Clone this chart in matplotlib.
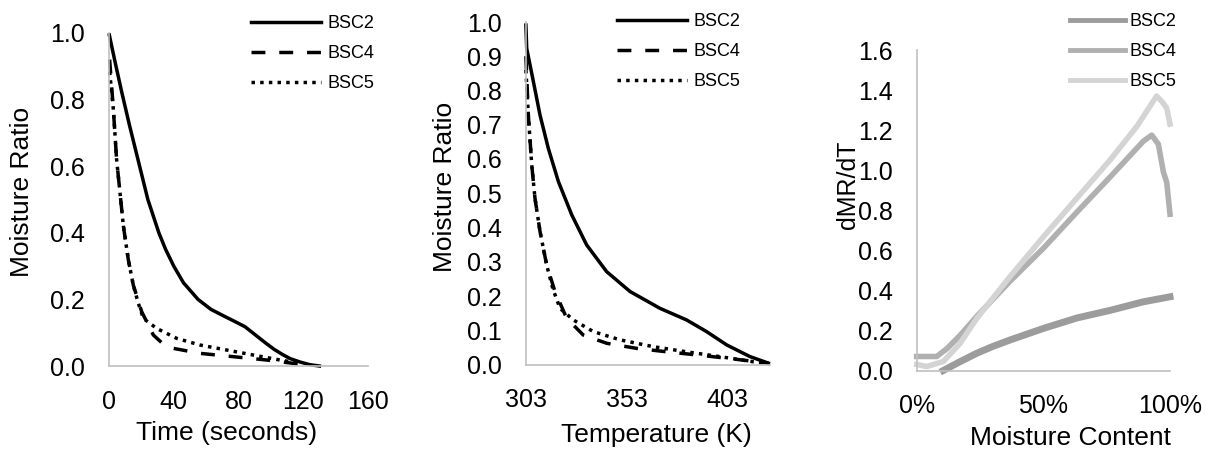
import matplotlib
matplotlib.use("Agg")
import matplotlib.pyplot as plt
from matplotlib.ticker import FixedLocator, FormatStrFormatter, FixedFormatter

plt.rcParams["font.family"] = ["Liberation Sans", "DejaVu Sans"]

W, H = 1210, 453

series_names = ["BSC2", "BSC4", "BSC5"]

# panel 1: moisture ratio vs time (s)
time_bsc2 = [0.2, 3.7, 7.8, 12.6, 17.7, 24, 30.8, 35, 40, 46, 55, 63, 71, 78, 84, 90, 96.5, 102, 107, 112, 118, 124, 130]
mr_bsc2_t = [0.994, 0.914, 0.824, 0.724, 0.624, 0.5, 0.4, 0.35, 0.3, 0.25, 0.2, 0.17, 0.15, 0.133, 0.118, 0.095, 0.07, 0.05, 0.035, 0.022, 0.012, 0.004, 0.0]
time_bsc4 = [0.4, 2.7, 4.7, 6.8, 8.9, 11.9, 15, 20.2, 27.4, 33, 39.7, 56.2, 76.8, 97.4, 113.8, 122]
mr_bsc4_t = [0.92, 0.77, 0.62, 0.52, 0.42, 0.32, 0.243, 0.163, 0.093, 0.068, 0.053, 0.038, 0.028, 0.018, 0.008, 0.003]
time_bsc5 = [0.4, 2.7, 4.7, 6.8, 8.9, 11.9, 15, 18, 21.2, 29.4, 41.8, 56.2, 72.7, 89.1, 105.6, 118]
mr_bsc5_t = [0.884, 0.77, 0.62, 0.52, 0.42, 0.32, 0.243, 0.19, 0.143, 0.113, 0.083, 0.063, 0.048, 0.033, 0.018, 0.008]

# panel 2: moisture ratio vs temperature (K)
temp_bsc2 = [303.1, 303.5, 306.8, 310.1, 314.2, 319.2, 325.8, 333.2, 343.1, 354.7, 369.5, 382.7, 392.6, 402.6, 414.1, 423.2]
mr_bsc2_k = [0.991, 0.923, 0.826, 0.728, 0.631, 0.534, 0.437, 0.349, 0.271, 0.213, 0.164, 0.130, 0.096, 0.057, 0.023, 0.004]
temp_bsc4 = [303.1, 304.3, 306, 307.6, 310.1, 313.4, 317.5, 323.3, 331.5, 343.1, 358, 374.5, 391, 407.5, 423.2]
mr_bsc4_k = [0.90, 0.728, 0.582, 0.485, 0.388, 0.29, 0.213, 0.135, 0.086, 0.062, 0.047, 0.036, 0.026, 0.015, 0.004]
temp_bsc5 = [303.1, 304.3, 306, 307.6, 310.1, 313.4, 316.5, 320, 326.6, 336.5, 349.7, 366.2, 382.7, 399.2, 415.7, 422]
mr_bsc5_k = [0.86, 0.728, 0.582, 0.485, 0.388, 0.29, 0.22, 0.164, 0.13, 0.096, 0.072, 0.052, 0.037, 0.023, 0.008, 0.004]

# panel 3: dMR/dT vs moisture content
mc_bsc2 = [0.105, 0.171, 0.237, 0.30, 0.368, 0.5, 0.632, 0.763, 0.895, 1.0]
rate_bsc2 = [0.0, 0.044, 0.086, 0.12, 0.152, 0.21, 0.262, 0.30, 0.343, 0.368]
mc_bsc4 = [0.0, 0.079, 0.12, 0.171, 0.237, 0.368, 0.5, 0.632, 0.763, 0.895, 0.928, 0.954, 0.974, 0.987, 1.0]
rate_bsc4 = [0.07, 0.07, 0.11, 0.175, 0.27, 0.445, 0.61, 0.79, 0.965, 1.145, 1.175, 1.13, 0.99, 0.94, 0.78]
mc_bsc5 = [0.0, 0.04, 0.105, 0.171, 0.237, 0.368, 0.5, 0.632, 0.763, 0.87, 0.947, 0.97, 0.987, 1.0]
rate_bsc5 = [0.03, 0.02, 0.045, 0.135, 0.26, 0.468, 0.667, 0.86, 1.05, 1.22, 1.37, 1.34, 1.31, 1.23]

time_ticks = [0, 40, 80, 120, 160]
temp_ticks = [303, 353, 403]
mc_ticks = [0, 0.5, 1.0]
mc_ticklabels = ["0%", "50%", "100%"]

black_styles = ["-", (0, (4, 4)), (0, (1, 1.5))]
gray_colors = ["#9c9c9c", "#b0b0b0", "#d4d4d4"]
gray_widths = [5.0, 4.0, 4.0]
AXIS_GRAY = "#c0c0c0"


def rect(left, right, bottom, top):
    return [left / W, 1 - bottom / H, (right - left) / W, (bottom - top) / H]


def style_axes(ax):
    for side in ("top", "right"):
        ax.spines[side].set_visible(False)
    for side in ("left", "bottom"):
        ax.spines[side].set_color(AXIS_GRAY)
        ax.spines[side].set_linewidth(1.2)
    ax.tick_params(axis="both", length=0, labelsize=18)
    ax.tick_params(axis="y", pad=17.5)
    ax.tick_params(axis="x", pad=17)


def add_legend(ax, x_left, y_mid, hl, tp):
    return ax.legend(loc="center left", bbox_to_anchor=(x_left / W, 1 - y_mid / H),
                     bbox_transform=fig.transFigure, frameon=False, fontsize=13,
                     handlelength=hl, handletextpad=tp, labelspacing=0.72,
                     borderpad=0, borderaxespad=0)


fig = plt.figure(figsize=(W / 100, H / 100), dpi=100)

# panel 1
ax1 = fig.add_axes(rect(109, 368, 366, 33))
for xs, ys, ls, name in zip([time_bsc2, time_bsc4, time_bsc5],
                            [mr_bsc2_t, mr_bsc4_t, mr_bsc5_t], black_styles, series_names):
    ax1.plot(xs, ys, color="black", linestyle=ls, lw=2.5, label=name, clip_on=False,
             solid_joinstyle="round", dash_joinstyle="round")
ax1.set_xlim(0, 160)
ax1.set_ylim(0, 1.0)
ax1.xaxis.set_major_locator(FixedLocator(time_ticks))
ax1.yaxis.set_major_locator(FixedLocator([0, 0.2, 0.4, 0.6, 0.8, 1.0]))
ax1.yaxis.set_major_formatter(FormatStrFormatter("%.1f"))
style_axes(ax1)
add_legend(ax1, 250.7, 53.5, 3.9, 0.35)
fig.text(227 / W, 1 - 433 / H, "Time (seconds)", fontsize=19, ha="center", va="center")
fig.text(22.5 / W, 1 - 192 / H, "Moisture Ratio", fontsize=19, ha="center", va="center", rotation=90)

# panel 2
ax2 = fig.add_axes(rect(525.7, 770, 364.5, 22))
for xs, ys, ls, name in zip([temp_bsc2, temp_bsc4, temp_bsc5],
                            [mr_bsc2_k, mr_bsc4_k, mr_bsc5_k], black_styles, series_names):
    ax2.plot(xs, ys, color="black", linestyle=ls, lw=2.5, label=name, clip_on=False,
             solid_joinstyle="round", dash_joinstyle="round")
ax2.set_xlim(303, 424)
ax2.set_ylim(0, 1.0)
ax2.xaxis.set_major_locator(FixedLocator(temp_ticks))
ax2.yaxis.set_major_locator(FixedLocator([i / 10 for i in range(11)]))
ax2.yaxis.set_major_formatter(FormatStrFormatter("%.1f"))
style_axes(ax2)
add_legend(ax2, 616.7, 51.5, 3.9, 0.33)
fig.text(656 / W, 1 - 435 / H, "Temperature (K)", fontsize=19, ha="center", va="center")
fig.text(445.5 / W, 1 - 187 / H, "Moisture Ratio", fontsize=19, ha="center", va="center", rotation=90)

# panel 3
ax3 = fig.add_axes(rect(916.7, 1170, 370.5, 50))
for xs, ys, c, lw, name in zip([mc_bsc2, mc_bsc4, mc_bsc5],
                               [rate_bsc2, rate_bsc4, rate_bsc5], gray_colors, gray_widths,
                               series_names):
    ax3.plot(xs, ys, color=c, lw=lw, label=name, clip_on=False, solid_joinstyle="round")
ax3.set_xlim(0, 1.0)
ax3.set_ylim(0, 1.6)
ax3.xaxis.set_major_locator(FixedLocator(mc_ticks))
ax3.xaxis.set_major_formatter(FixedFormatter(mc_ticklabels))
ax3.yaxis.set_major_locator(FixedLocator([i / 5 for i in range(9)]))
ax3.yaxis.set_major_formatter(FormatStrFormatter("%.1f"))
style_axes(ax3)
leg3 = add_legend(ax3, 1070, 51.5, 3.05, 0.22)
for line in leg3.get_lines():
    line.set_linewidth(3.5)
fig.text(1071 / W, 1 - 438 / H, "Moisture Content", fontsize=19, ha="center", va="center")
fig.text(847.5 / W, 1 - 184.5 / H, "dMR/dT", fontsize=18, ha="center", va="center", rotation=90)

fig.savefig("out.png", dpi=100)
